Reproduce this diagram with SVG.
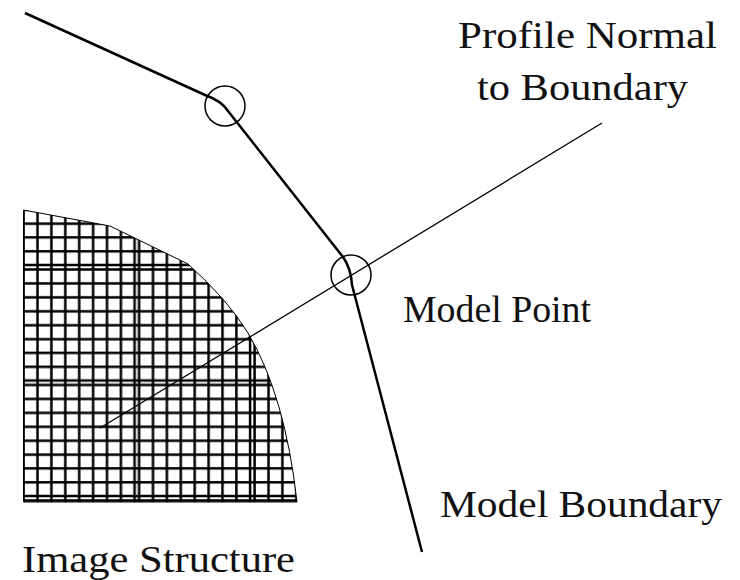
<svg xmlns="http://www.w3.org/2000/svg" width="740" height="580" viewBox="0 0 740 580">
<style>
.lbl{font-family:"Liberation Serif","Times New Roman",serif;font-size:38px;fill:#111}
.grid{stroke:#000;stroke-width:2.5;fill:none}
</style>
<defs>
<pattern id="mesh" patternUnits="userSpaceOnUse" x="22" y="152.5" width="115.5" height="115.5">
<path class="grid" d="M1.6,0V115.5M15.5,0V115.5M29.4,0V115.5M43.3,0V115.5M57.2,0V115.5M71.1,0V115.5M85,0V115.5M98.9,0V115.5M112.6,0V115.5M0,1.6H115.5M0,15.5H115.5M0,29.4H115.5M0,43.3H115.5M0,57.2H115.5M0,71.1H115.5M0,85H115.5M0,98.9H115.5M0,112.6H115.5"/>
</pattern>
</defs>
<rect width="740" height="580" fill="#fff"/>
<g id="image-structure">
<path d="M23.5,210 L110,226 L188,264 Q228,300 248,333 Q285,395 297,502 L23.5,502 Z" fill="url(#mesh)" stroke="#000" stroke-width="1"/>
</g>
<g id="connectors">
<path id="model-boundary-line" d="M25,13 L205,95 Q222,101 228,111 L343,257 Q351,268 352,285 L422,552" fill="none" stroke="#000" stroke-width="2.5" stroke-linejoin="round"/>
<line id="profile-normal-line" x1="100" y1="428" x2="602" y2="123" stroke="#000" stroke-width="1.3"/>
</g>
<g id="point-1"><circle cx="225" cy="106" r="20" fill="none" stroke="#000" stroke-width="1.5"/></g>
<g id="model-point"><circle cx="351" cy="275" r="20" fill="none" stroke="#000" stroke-width="1.5"/></g>
<g id="labels">
<text class="lbl" x="458" y="48" textLength="259" lengthAdjust="spacingAndGlyphs">Profile Normal</text>
<text class="lbl" x="477" y="100" textLength="211" lengthAdjust="spacingAndGlyphs">to Boundary</text>
<text class="lbl" x="403" y="322" textLength="188" lengthAdjust="spacingAndGlyphs">Model Point</text>
<text class="lbl" x="440" y="517" textLength="282" lengthAdjust="spacingAndGlyphs">Model Boundary</text>
<text class="lbl" x="22" y="572" textLength="273" lengthAdjust="spacingAndGlyphs">Image Structure</text>
</g>
</svg>
